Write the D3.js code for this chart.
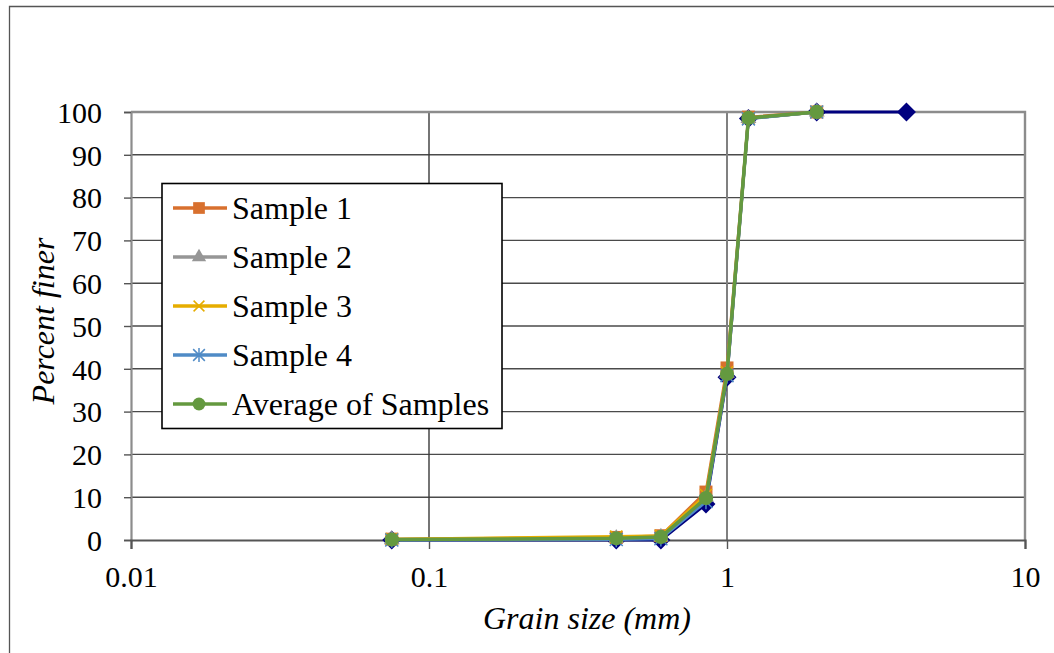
<!DOCTYPE html>
<html>
<head>
<meta charset="utf-8">
<script src="https://cdn.jsdelivr.net/npm/d3@7/dist/d3.min.js"></script>
<style>
  html, body { margin: 0; padding: 0; background: #fff; }
  svg { display: block; }
</style>
</head>
<body>
<svg id="chart" width="1054" height="653"></svg>
<script>
// Sieve sizes (mm)
const sieveSizes = [0.075, 0.425, 0.6, 0.85, 1.0, 1.18, 2.0];
const sieveSizesFull = [0.075, 0.425, 0.6, 0.85, 1.0, 1.18, 2.0, 4.0];

// Percent finer for each sample
const sample1 = [0.2, 0.6, 1.0, 11.2, 40.2, 98.8, 100];
const sample2 = [0.1, 0.4, 0.7, 10.0, 39.0, 98.5, 100];
const sample3 = [0.2, 0.8, 1.0, 10.5, 39.2, 98.5, 100];
const sample4 = [0.0, 0.1, 0.3, 9.0, 38.4, 98.4, 100];
const average = [0.1, 0.4, 0.7, 9.8, 38.8, 98.6, 100];
const gradation = [0.0, 0.0, 0.0, 8.4, 38.0, 98.5, 100, 100];

const xTicks = [0.01, 0.1, 1, 10];
const yTicks = [0, 10, 20, 30, 40, 50, 60, 70, 80, 90, 100];

const FONT = "Liberation Serif";

const svg = d3.select("#chart");

// outer chart border
svg.append("path")
  .attr("d", "M9.5,660 L9.5,6.5 L1060,6.5")
  .attr("fill", "none").attr("stroke", "#555").attr("stroke-width", 1.3);

const plot = { left: 131, right: 1025, top: 112, bottom: 540 };

const x = d3.scaleLog().domain([0.01, 10]).range([plot.left, plot.right]);
const y = d3.scaleLinear().domain([0, 100]).range([plot.bottom, plot.top]);

// horizontal gridlines
svg.append("g").selectAll("line").data(yTicks.filter(v => v > 0 && v < 100)).join("line")
  .attr("x1", plot.left).attr("x2", plot.right)
  .attr("y1", d => y(d)).attr("y2", d => y(d))
  .attr("stroke", "#4a4a4a").attr("stroke-width", 1.4);

// vertical gridlines
svg.append("g").selectAll("line").data([0.1, 1]).join("line")
  .attr("x1", d => x(d)).attr("x2", d => x(d))
  .attr("y1", plot.top).attr("y2", plot.bottom)
  .attr("stroke", d => d === 1 ? "#808080" : "#3a3a3a")
  .attr("stroke-width", d => d === 1 ? 2 : 1.4);

// top and right frame
svg.append("path")
  .attr("d", `M${plot.left},${y(100)} L${plot.right},${y(100)} L${plot.right},${plot.bottom}`)
  .attr("fill", "none").attr("stroke", "#8c8c8c").attr("stroke-width", 2.4);

// y axis
const yAxis = svg.append("g")
  .attr("transform", `translate(${plot.left},0)`)
  .call(d3.axisLeft(y).tickValues(yTicks).tickSize(7).tickPadding(22).tickFormat(d3.format("d")));
yAxis.attr("font-family", FONT).attr("font-size", 30);
yAxis.select(".domain").attr("stroke", "#8c8c8c").attr("stroke-width", 2.2);
yAxis.selectAll(".tick line").attr("stroke", "#555").attr("stroke-width", 1.4);
yAxis.selectAll(".tick text").attr("fill", "#000").attr("dy", "0.34em");

// x axis
const xAxis = svg.append("g")
  .attr("transform", `translate(0,${plot.bottom})`)
  .call(d3.axisBottom(x).tickValues(xTicks).tickSize(9).tickPadding(0)
    .tickFormat(d => d >= 1 ? d3.format("d")(d) : String(d)));
xAxis.attr("font-family", FONT).attr("font-size", 30);
xAxis.select(".domain").attr("stroke", "#555").attr("stroke-width", 2.2);
xAxis.selectAll(".tick line").attr("stroke", "#555").attr("stroke-width", 1.4);
xAxis.selectAll(".tick text").attr("fill", "#000").attr("y", 47).attr("dy", null);

// axis titles
svg.append("text")
  .attr("transform", `translate(54,321) rotate(-90)`)
  .attr("text-anchor", "middle")
  .attr("font-family", FONT).attr("font-size", 32).attr("font-style", "italic")
  .text("Percent finer");
svg.append("text")
  .attr("x", 587).attr("y", 629)
  .attr("text-anchor", "middle")
  .attr("font-family", FONT).attr("font-size", 32).attr("font-style", "italic")
  .text("Grain size (mm)");

const line = d3.line().x(d => x(d[0])).y(d => y(d[1]));

const series = [
  { name: null, sizes: sieveSizesFull, values: gradation, color: "#00007f", symbol: "diamond", size: 9.5, sw: 3 },
  { name: "Sample 1", sizes: sieveSizes, values: sample1, color: "#d8702e", symbol: d3.symbolSquare, size: 169, sw: 3 },
  { name: "Sample 2", sizes: sieveSizes, values: sample2, color: "#969696", symbol: d3.symbolTriangle, size: 110, sw: 3 },
  { name: "Sample 3", sizes: sieveSizes, values: sample3, color: "#e6ad00", symbol: "x", size: 0, sw: 3 },
  { name: "Sample 4", sizes: sieveSizes, values: sample4, color: "#4f8bc6", symbol: "star", size: 0, sw: 3 },
  { name: "Average of Samples", sizes: sieveSizes, values: average, color: "#64993f", symbol: d3.symbolCircle, size: 160, sw: 3.5 }
];

function drawMarker(g, s, cx, cy, scale) {
  const k = scale || 1;
  if (s.symbol === "x") {
    const r = 6 * k;
    g.append("path")
      .attr("d", `M${cx - r},${cy - r}L${cx + r},${cy + r}M${cx - r},${cy + r}L${cx + r},${cy - r}`)
      .attr("stroke", s.color).attr("stroke-width", 1.5).attr("fill", "none");
  } else if (s.symbol === "star") {
    const r = 6.5 * k;
    g.append("path")
      .attr("d", `M${cx - r},${cy - r}L${cx + r},${cy + r}M${cx - r},${cy + r}L${cx + r},${cy - r}M${cx},${cy - r * 1.2}L${cx},${cy + r * 1.2}`)
      .attr("stroke", s.color).attr("stroke-width", 1.5).attr("fill", "none");
  } else if (s.symbol === "diamond") {
    const r = s.size * k;
    g.append("path")
      .attr("d", `M${cx},${cy - r}L${cx + r},${cy}L${cx},${cy + r}L${cx - r},${cy}Z`)
      .attr("fill", s.color);
  } else {
    g.append("path")
      .attr("d", d3.symbol().type(s.symbol).size(s.size * k * k)())
      .attr("transform", `translate(${cx},${cy})`)
      .attr("fill", s.color);
  }
}

const marks = svg.append("g");
series.forEach(s => {
  const pts = s.sizes.map((d, i) => [d, s.values[i]]);
  const g = marks.append("g");
  g.append("path").datum(pts).attr("d", line)
    .attr("fill", "none").attr("stroke", s.color).attr("stroke-width", s.sw)
    .attr("stroke-linejoin", "round");
  pts.forEach(p => drawMarker(g, s, x(p[0]), y(p[1]), 1));
});

// legend
const legend = svg.append("g");
legend.append("rect")
  .attr("x", 162).attr("y", 183.5).attr("width", 340).attr("height", 245)
  .attr("fill", "#fff").attr("stroke", "#000").attr("stroke-width", 1.6);
const legendItems = series.filter(s => s.name);
legendItems.forEach((s, i) => {
  const cy = 208 + i * 49;
  legend.append("line")
    .attr("x1", 173).attr("x2", 227).attr("y1", cy).attr("y2", cy)
    .attr("stroke", s.color).attr("stroke-width", 3.5);
  drawMarker(legend, s, 199, cy, 0.9);
  legend.append("text")
    .attr("x", 232).attr("y", cy).attr("dy", "0.35em")
    .attr("font-family", FONT).attr("font-size", 32)
    .text(s.name);
});
</script>
</body>
</html>
